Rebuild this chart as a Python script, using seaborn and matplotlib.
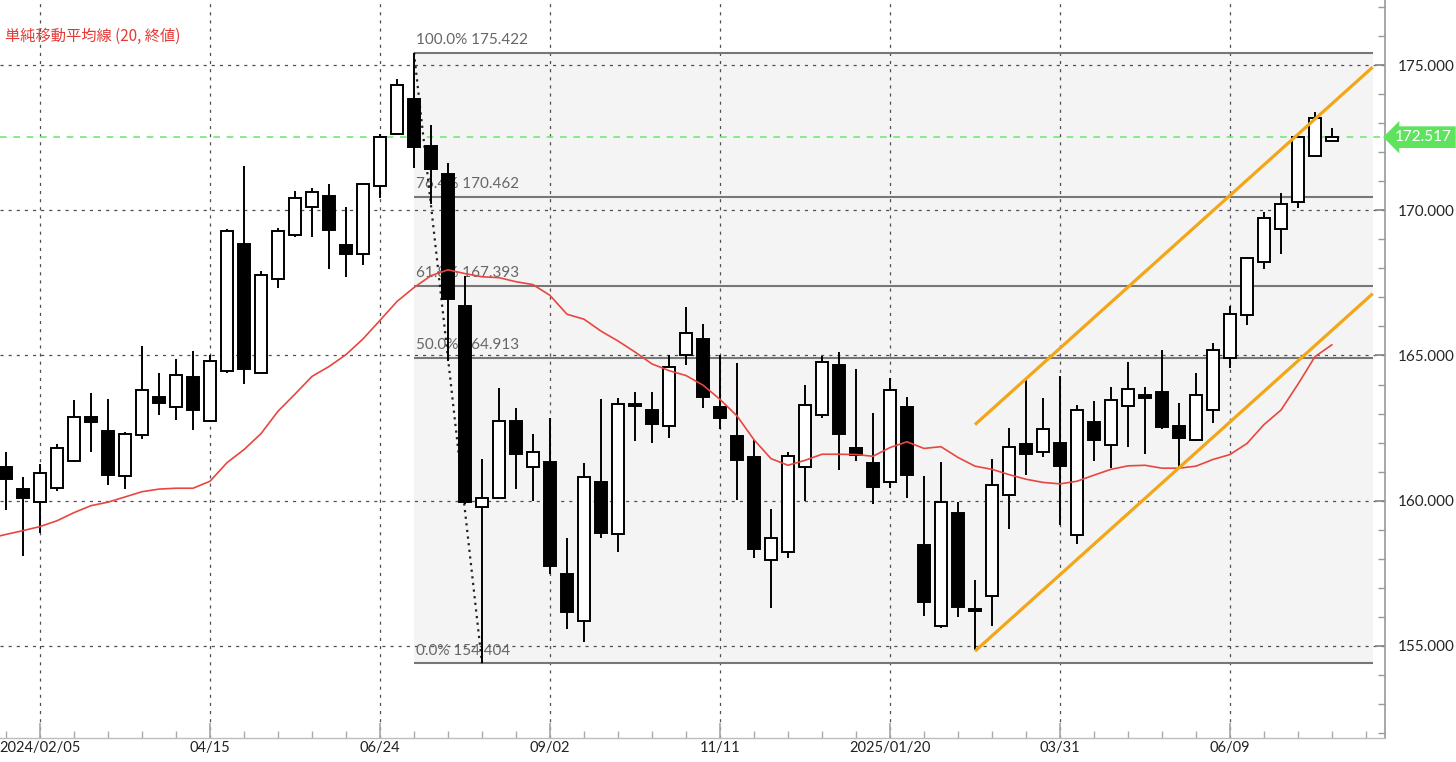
import numpy as np
import pandas as pd
import matplotlib
matplotlib.use("Agg")
import matplotlib.pyplot as plt
import matplotlib.transforms as mtransforms
from matplotlib.ticker import MultipleLocator, FixedLocator, FixedFormatter, FormatStrFormatter
import seaborn as sns

# ---------------- data (weekly candles, first week 2024-01-22) ----------------
first_week = "2024-01-22"
opens = [161.15, 160.40, 159.95, 160.44, 161.38, 162.89, 162.41, 160.84, 162.27, 163.57,
         163.22, 164.25, 162.76, 164.48, 168.84, 164.41, 167.64, 169.14, 170.13, 170.50,
         168.80, 168.50, 170.84, 172.62, 173.84, 172.20, 171.24, 166.70, 159.79, 160.09,
         162.76, 161.15, 161.35, 157.46, 155.85, 160.66, 158.86, 163.33, 163.12, 162.58,
         165.00, 165.57, 163.24, 162.24, 161.49, 157.95, 158.25, 161.15, 162.96, 164.67,
         161.83, 161.29, 160.66, 163.24, 158.46, 155.67, 159.57, 156.26, 156.71, 160.20,
         161.95, 161.69, 161.97, 158.81, 162.70, 161.93, 163.26, 163.63, 163.76, 162.56,
         162.09, 163.12, 164.93, 166.39, 168.21, 169.34, 170.27, 171.86, 172.40]
highs = [161.69, 160.81, 161.26, 161.95, 163.46, 163.71, 163.50, 162.38, 165.34, 164.39,
         164.89, 165.16, 165.00, 169.35, 171.53, 167.92, 169.38, 170.67, 170.78, 170.92,
         170.13, 170.95, 172.62, 174.52, 175.42, 172.92, 171.63, 167.75, 161.42, 163.87,
         163.19, 162.31, 162.85, 158.70, 161.31, 163.50, 163.52, 163.76, 163.73, 165.00,
         166.66, 166.08, 165.00, 164.73, 162.10, 159.71, 161.67, 163.97, 164.97, 165.12,
         164.52, 163.01, 164.24, 163.57, 160.84, 161.33, 159.97, 157.27, 161.42, 162.51,
         164.24, 163.52, 164.30, 163.28, 163.42, 163.90, 164.78, 163.90, 165.19, 163.37,
         164.40, 165.44, 166.70, 168.40, 169.95, 170.61, 172.62, 173.38, 172.82]
lows = [159.68, 158.09, 158.90, 160.33, 161.35, 161.69, 160.54, 160.39, 162.13, 162.95,
        162.78, 162.44, 162.72, 164.40, 164.03, 164.39, 167.31, 169.08, 169.08, 167.99,
        167.71, 168.12, 170.43, 172.58, 171.46, 170.22, 164.82, 159.90, 154.40, 160.07,
        160.40, 159.99, 157.46, 155.60, 155.14, 158.73, 158.25, 162.06, 161.99, 162.16,
        164.66, 163.19, 162.47, 160.02, 158.02, 156.31, 158.02, 159.98, 162.85, 161.07,
        161.38, 159.88, 160.43, 160.09, 156.03, 155.63, 155.98, 154.85, 155.70, 159.03,
        160.90, 161.52, 159.16, 158.52, 161.38, 161.11, 161.86, 161.60, 162.48, 161.14,
        162.06, 162.69, 164.58, 166.05, 167.99, 168.50, 170.09, 171.86, 172.37]
closes = [160.74, 160.09, 160.97, 161.83, 162.89, 162.71, 160.88, 162.31, 163.80, 163.35,
          164.32, 163.12, 164.80, 169.29, 164.52, 167.78, 169.27, 170.43, 170.63, 169.31,
          168.50, 170.92, 172.54, 174.32, 172.17, 171.42, 166.93, 159.94, 160.09, 162.76,
          161.61, 161.69, 157.76, 156.17, 160.80, 158.90, 163.33, 163.25, 162.65, 164.62,
          165.78, 163.56, 162.84, 161.41, 158.33, 158.73, 161.54, 163.31, 164.78, 162.29,
          161.59, 160.48, 163.80, 160.90, 156.52, 159.95, 156.35, 156.20, 160.54, 161.86,
          161.61, 162.47, 161.18, 163.12, 162.10, 163.46, 163.86, 163.53, 162.54, 162.17,
          163.63, 165.19, 166.43, 168.36, 169.72, 170.20, 172.54, 173.18, 172.517]

# 20-week simple moving average (close), first value = week of 2024-01-15
ma_first_week = "2024-01-15"
ma20 = [158.70, 158.84, 158.97, 159.11, 159.31, 159.59, 159.83, 159.95, 160.13, 160.31,
        160.40, 160.43, 160.43, 160.67, 161.31, 161.76, 162.31, 163.08, 163.67, 164.28,
        164.62, 165.03, 165.57, 166.21, 166.86, 167.34, 167.75, 167.95, 167.82, 167.71,
        167.68, 167.54, 167.44, 167.07, 166.42, 166.25, 165.84, 165.50, 165.12, 164.71,
        164.48, 164.31, 163.98, 163.49, 162.92, 162.10, 161.45, 161.22, 161.39, 161.60,
        161.60, 161.59, 161.53, 161.83, 162.03, 161.80, 161.86, 161.49, 161.19, 161.08,
        160.90, 160.74, 160.63, 160.58, 160.67, 160.88, 161.08, 161.20, 161.22, 161.12,
        161.12, 161.19, 161.42, 161.59, 161.97, 162.62, 163.12, 164.01, 164.96, 165.37]

tick_dates = ["2024-02-05", "2024-04-15", "2024-06-24", "2024-09-02",
              "2024-11-11", "2025-01-20", "2025-03-31", "2025-06-09"]
tick_labels = ["2024/02/05", "04/15", "06/24", "09/02", "11/11", "2025/01/20", "03/31", "06/09"]

fib_names = ["100.0%", "76.4%", "61.8%", "50.0%", "0.0%"]
fib_levels = [175.422, 170.462, 167.393, 164.913, 154.404]
fib_high_week = "2024-07-08"
fib_low_week = "2024-08-05"

channel_start_week = "2025-02-24"
channel_weeks_span = [0.0, 23.4]          # weeks after channel start
channel_lower = [154.82, 167.13]
channel_upper = [162.62, 174.93]

last_price = 172.517
legend_text = "単純移動平均線 (20, 終値)"

# ---------------- derived positions (week index) ----------------
t0 = pd.Timestamp(first_week)
def wk(d):
    return (pd.Timestamp(d) - t0).days / 7.0

n = len(opens)
x = np.arange(n)
df = pd.DataFrame({"x": x, "open": opens, "high": highs, "low": lows, "close": closes})
ma_df = pd.DataFrame({"x": np.arange(len(ma20)) + wk(ma_first_week), "ma": ma20})
tick_pos = [wk(d) for d in tick_dates]
fib_x0 = wk(fib_high_week)
fib_x1 = wk(channel_start_week) + channel_weeks_span[1]
ch_x = [wk(channel_start_week) + s for s in channel_weeks_span]

# ---------------- figure ----------------
sns.set_theme(style="white")
plt.rcParams["font.family"] = ["Lato", "Noto Sans CJK JP", "DejaVu Sans"]

W, H = 1456, 762
fig = plt.figure(figsize=(W / 100, H / 100), dpi=100)
ax = fig.add_axes([0, (H - 738) / H, 1385 / W, 738 / H])
ax.set_facecolor("white")

ax.set_xlim(-0.353, 81.12)
ax.set_ylim(151.83, 177.24)

# fib shaded band
ax.fill_between([fib_x0, fib_x1], fib_levels[-1], fib_levels[0], color="#f4f4f4", lw=0, zorder=0.2)

# grid
ax.set_axisbelow(True)
ax.yaxis.set_major_locator(MultipleLocator(5))
ax.yaxis.set_minor_locator(MultipleLocator(1))
ax.yaxis.set_major_formatter(FormatStrFormatter("%.3f"))
ax.xaxis.set_major_locator(FixedLocator(tick_pos))
ax.xaxis.set_major_formatter(FixedFormatter(tick_labels))
ax.xaxis.set_minor_locator(MultipleLocator(2))
ax.grid(True, which="major", color="#505050", lw=0.9, ls=(0, (2.5, 4)))

# fib lines and labels
ax.hlines(fib_levels, fib_x0, fib_x1, color="#777777", lw=1.5, zorder=1.5)
for name, lv in zip(fib_names, fib_levels):
    ax.annotate(f"{name} {lv:.3f}", xy=(fib_x0, lv), xytext=(1.5, 4.0), textcoords="offset points",
                ha="left", va="bottom", fontsize=11, color="#666666", zorder=1.6)

# fib trend line (dotted)
ax.plot([fib_x0, wk(fib_low_week)], [fib_levels[0], fib_levels[-1]], color="#222222",
        lw=1.6, ls=(0, (1, 2)), zorder=2.5)

# last price line
ax.axhline(last_price, color="#74e874", lw=1.2, ls=(0, (4, 4)), zorder=1.7)

# candles
up = df["close"] >= df["open"]
ax.vlines(df["x"], df["low"], df["high"], color="black", lw=1.4, zorder=2.8)
body_bottom = np.minimum(df["open"], df["close"])
body_h = np.maximum(np.abs(df["close"] - df["open"]), 0.06)
ax.bar(df["x"][up], body_h[up], bottom=body_bottom[up], width=0.72, color="white",
       edgecolor="black", linewidth=1.4, zorder=3)
ax.bar(df["x"][~up], body_h[~up], bottom=body_bottom[~up], width=0.72, color="black",
       edgecolor="black", linewidth=1.4, zorder=3)

# moving average
sns.lineplot(data=ma_df, x="x", y="ma", ax=ax, color="#e8463f", lw=1.2, zorder=4, legend=False)

# channel lines
ax.plot(ch_x, channel_lower, color="#f2a618", lw=2.3, solid_capstyle="butt", zorder=5)
ax.plot(ch_x, channel_upper, color="#f2a618", lw=2.3, solid_capstyle="butt", zorder=5)

# axes styling
for s in ["left", "top"]:
    ax.spines[s].set_visible(False)
ax.spines["right"].set_color("#9a9a9a")
ax.spines["bottom"].set_color("#bdbdbd")
ax.spines["right"].set_linewidth(1.2)
ax.spines["bottom"].set_linewidth(1.0)
ax.yaxis.tick_right()
ax.tick_params(axis="y", which="major", direction="in", length=7, color="#888888",
               labelsize=11, labelcolor="#262626", pad=9, right=True, left=False)
ax.tick_params(axis="y", which="minor", direction="in", length=5, color="#999999", right=True, left=False)
ax.tick_params(axis="x", which="major", direction="in", length=11, color="#aaaaaa",
               labelsize=10.5, labelcolor="#222222", pad=2, bottom=True)
ax.tick_params(axis="x", which="minor", direction="in", length=5, color="#aaaaaa", bottom=True)
ax.set_xlabel("")
ax.set_ylabel("")

# price tag
trans = mtransforms.blended_transform_factory(ax.transAxes, ax.transData)
ax.text(1395 / 1385, last_price, f"{last_price:.3f}", transform=trans, ha="left", va="center",
        fontsize=11, color="white", clip_on=False, zorder=10,
        bbox=dict(boxstyle="larrow,pad=0.25", fc="#5fe35f", ec="none"))

# indicator legend
fig.text(5 / W, 1 - 36 / H, legend_text, ha="left", va="center", fontsize=11,
         color="#e53935", family=["Noto Sans CJK JP", "DejaVu Sans"])

fig.savefig("out.png", dpi=100)
